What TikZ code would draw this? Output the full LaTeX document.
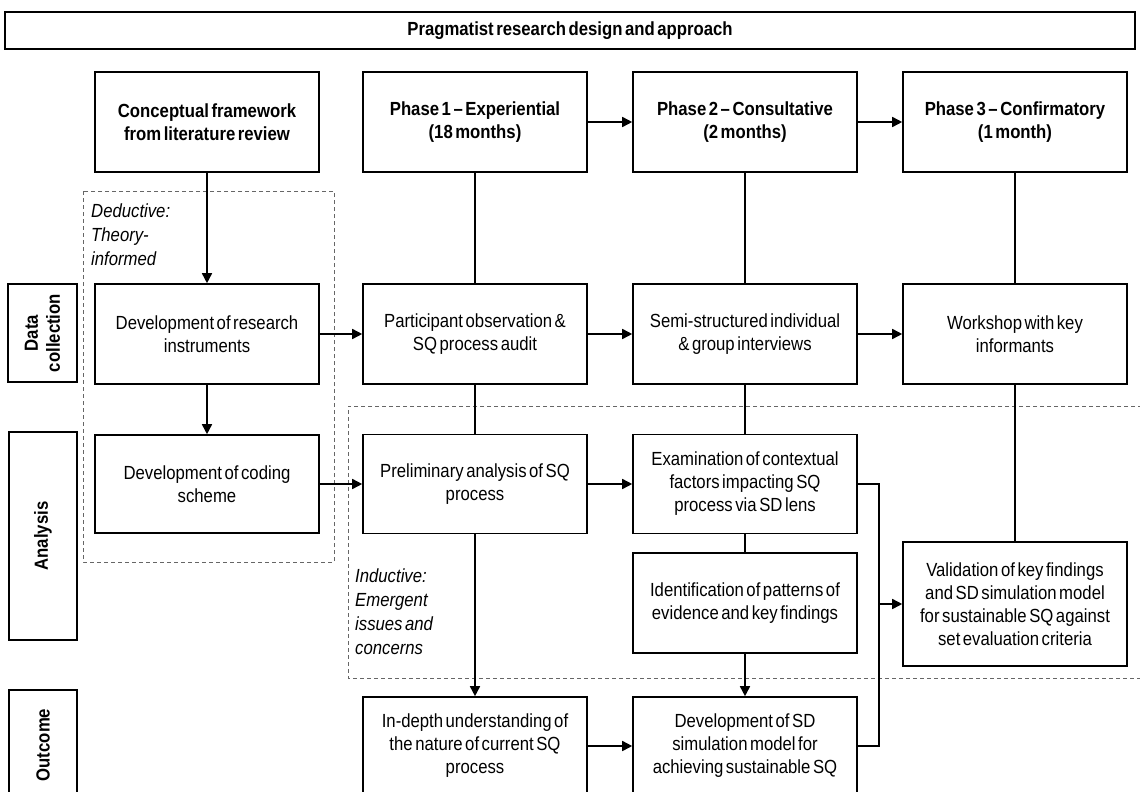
\documentclass[tikz,border=0pt]{standalone}
\usepackage{fontspec}
\setmainfont{Liberation Sans}[FakeStretch=0.88, WordSpace=0.55]
\usetikzlibrary{arrows.meta}
\begin{document}
\begin{tikzpicture}[x=1pt,y=-1pt,
  every node/.style={font=\fontsize{19}{23}\selectfont},
  box/.style={draw, line width=1.6pt, align=center, minimum width=224pt, minimum height=100pt, inner sep=2pt},
  hbox/.style={box, font=\fontsize{19}{23}\selectfont\bfseries},
  lbl/.style={draw, line width=1.6pt, align=center, inner sep=0pt, font=\fontsize{19}{22}\selectfont\bfseries},
  conn/.style={line width=1.6pt},
  arr/.style={line width=1.6pt, -{Triangle[length=10pt,width=10pt]}},
  dash box/.style={draw=black!60, line width=0.9pt, dash pattern=on 4pt off 3pt},
  note/.style={align=left, anchor=north west, inner sep=0pt, font=\fontsize{19}{24}\selectfont\itshape}
]
\useasboundingbox (0,0) rectangle (1140,792);
\fill[white] (0,0) rectangle (1140,792);

% banner
\node[draw, line width=1.3pt, minimum width=1130pt, minimum height=37pt, inner sep=0pt, font=\fontsize{19}{22}\selectfont\bfseries] (title) at (570,30.5) {Pragmatist research design and approach};

% dashed regions
\draw[dash box] (83,191) rectangle (334,562);
\draw[dash box] (1142,406) -- (348,406) -- (348,678) -- (1142,678);
\node[note] (ded) at (91,204) {Deductive:\\Theory-\\informed};
\node[note] (ind) at (355,569) {Inductive:\\Emergent\\issues and\\concerns};

% row labels (rotated: width is vertical extent, height is horizontal extent)
\node[lbl, minimum width=98pt, minimum height=69pt, rotate=90] (dc) at (42.5,333) {Data\\collection};
\node[lbl, minimum width=208pt, minimum height=68pt, rotate=90] (an) at (43,536) {Analysis};
\node[lbl, minimum width=110pt, minimum height=68pt, rotate=90] (out) at (43,745) {Outcome};

% top row
\node[hbox] (conc) at (207,122) {Conceptual framework\\from literature review};
\node[hbox] (p1) at (475,122) {Phase 1 -- Experiential\\(18 months)};
\node[hbox] (p2) at (745,122) {Phase 2 -- Consultative\\(2 months)};
\node[hbox] (p3) at (1015,122) {Phase 3 -- Confirmatory\\(1 month)};

% data collection row
\node[box] (dri) at (207,334) {Development of research\\instruments};
\node[box] (po) at (475,334) {Participant observation \&\\SQ process audit};
\node[box] (semi) at (745,334) {Semi-structured individual\\\& group interviews};
\node[box] (work) at (1015,334) {Workshop with key\\informants};

% analysis row
\node[box, minimum height=98pt] (code) at (207,484) {Development of coding\\scheme};
\node[box, minimum height=99pt] (pre) at (475,484) {Preliminary analysis of SQ\\process};
\node[box, minimum height=99pt] (exam) at (745,484) {Examination of contextual\\factors impacting SQ\\process via SD lens};
\node[box] (ident) at (745,603) {Identification of patterns of\\evidence and key findings};
\node[box, minimum height=124pt] (valid) at (1015,604) {Validation of key findings\\and SD simulation model\\for sustainable SQ against\\set evaluation criteria};

% outcome row
\node[box, minimum height=98pt] (indepth) at (475,746) {In-depth understanding of\\the nature of current SQ\\process};
\node[box, minimum height=98pt] (devsd) at (745,746) {Development of SD\\simulation model for\\achieving sustainable SQ};

% connectors
\draw[arr] (p1.east) -- (p2.west);
\draw[arr] (p2.east) -- (p3.west);
\draw[arr] (conc.south) -- (dri.north);
\draw[arr] (dri.south) -- (code.north);
\draw[arr] (dri.east) -- (po.west);
\draw[arr] (po.east) -- (semi.west);
\draw[arr] (semi.east) -- (work.west);
\draw[arr] (code.east) -- (pre.west);
\draw[arr] (pre.east) -- (exam.west);
\draw[arr] (indepth.east) -- (devsd.west);

\draw[conn] (p1.south) -- (po.north);
\draw[conn] (po.south) -- (pre.north);
\draw[arr] (pre.south) -- (indepth.north);

\draw[conn] (p2.south) -- (semi.north);
\draw[conn] (semi.south) -- (exam.north);
\draw[conn] (exam.south) -- (ident.north);
\draw[arr] (ident.south) -- (devsd.north);

\draw[conn] (p3.south) -- (work.north);
\draw[conn] (work.south) -- (valid.north);

\coordinate (rj) at (879,604);
\draw[conn] (exam.east) -| (rj) |- (devsd.east);
\draw[arr] (rj) -- (valid.west);
\end{tikzpicture}
\end{document}
